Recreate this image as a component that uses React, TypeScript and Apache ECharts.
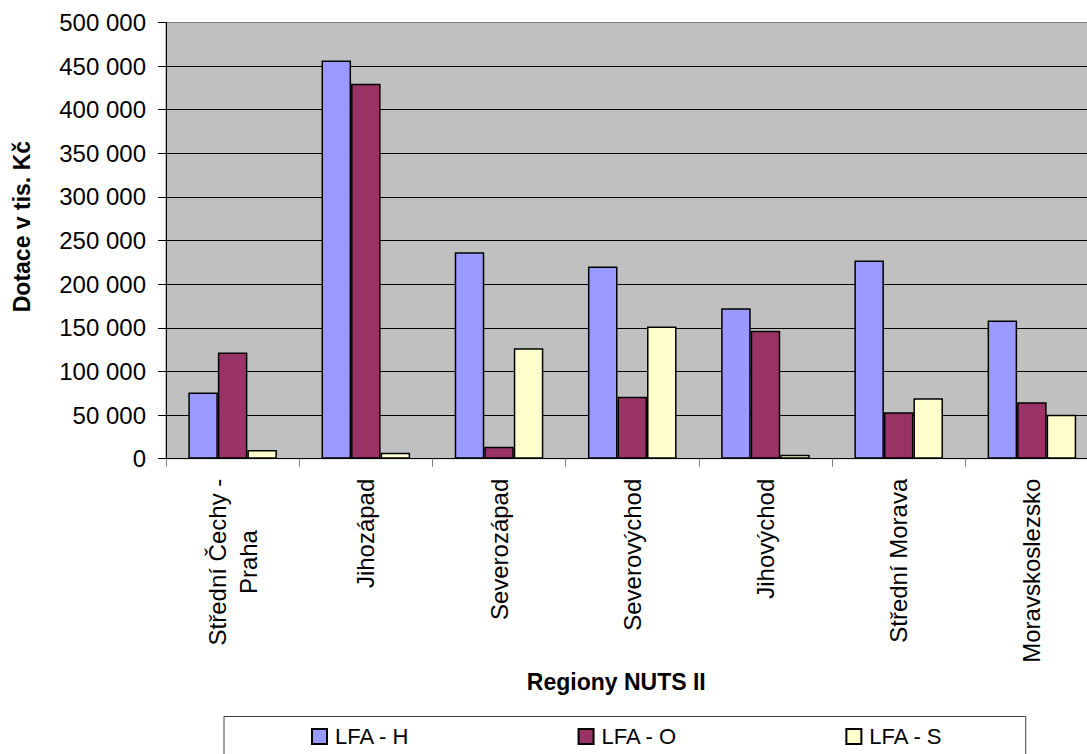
import React, { useEffect, useRef } from "react";
import * as echarts from "echarts";

const categories = [
  "Střední Čechy -\nPraha",
  "Jihozápad",
  "Severozápad",
  "Severovýchod",
  "Jihovýchod",
  "Střední Morava",
  "Moravskoslezsko",
];
const seriesNames = ["LFA - H", "LFA - O", "LFA - S"];
const lfaH = [76000, 456500, 236700, 220200, 172500, 227100, 158300];
const lfaO = [121600, 429700, 13800, 71100, 146800, 53200, 64700];
const lfaS = [10000, 6900, 126600, 151400, 4600, 69200, 50500];
const seriesColors = ["#9999FF", "#993366", "#FFFFCC"];
const yMin = 0;
const yMax = 500000;
const yInterval = 50000;
const yTitle = "Dotace v tis. Kč";
const xTitle = "Regiony NUTS II";

const FONT = "'Liberation Sans', Arial, sans-serif";

function fmt(v: number): string {
  return String(v).replace(/\B(?=(\d{3})+(?!\d))/g, " ");
}

export default function App() {
  const ref = useRef<HTMLDivElement>(null);
  useEffect(() => {
    if (!ref.current) return;
    const chart = echarts.init(ref.current, undefined, { renderer: "svg" });
    const data = [lfaH, lfaO, lfaS];
    const splitColors: string[] = [];
    for (let v = yMin; v <= yMax; v += yInterval) {
      splitColors.push(v === yMax ? "#808080" : "#000000");
    }
    chart.setOption({
      animation: false,
      grid: {
        left: 166,
        top: 22.5,
        width: 932.5,
        height: 436.2,
        show: true,
        backgroundColor: "#C0C0C0",
        borderColor: "#808080",
        borderWidth: 1,
      },
      legend: {
        left: 224,
        top: 716.5,
        orient: "horizontal",
        padding: [9, 83, 40, 87],
        itemGap: 168,
        itemWidth: 15,
        itemHeight: 15,
        borderColor: "#404040",
        borderWidth: 1,
        icon: "rect",
        textStyle: {
          fontFamily: FONT,
          fontSize: 22,
          color: "#000",
          padding: [0, 0, 0, 3],
        },
        data: seriesNames,
      },
      xAxis: {
        type: "category",
        data: categories,
        name: xTitle,
        nameLocation: "middle",
        nameGap: 205,
        nameTextStyle: {
          fontFamily: FONT,
          fontSize: 23,
          fontWeight: "bold",
          color: "#000",
          padding: [0, 32, 0, 0],
        },
        axisLine: { show: true, lineStyle: { color: "#000", width: 1 } },
        axisTick: {
          show: true,
          alignWithLabel: false,
          length: 8,
          lineStyle: { color: "#808080", width: 1 },
        },
        axisLabel: {
          rotate: 90,
          margin: 20,
          interval: 0,
          formatter: (v: string) =>
            v
              .split("\n")
              .map((s) => `{a|${s}}`)
              .join("\n"),
          rich: {
            a: {
              fontFamily: FONT,
              fontSize: 24,
              color: "#000",
              align: "center",
              lineHeight: 31,
            },
          },
        },
        splitLine: { show: false },
      },
      yAxis: {
        type: "value",
        min: yMin,
        max: yMax,
        interval: yInterval,
        name: yTitle,
        nameLocation: "middle",
        nameGap: 133,
        nameTextStyle: {
          fontFamily: FONT,
          fontSize: 23,
          fontWeight: "bold",
          color: "#000",
          padding: [0, 0, 0, 28],
        },
        axisLine: { show: true, lineStyle: { color: "#000", width: 1 } },
        axisTick: { show: true, length: 8, lineStyle: { color: "#000" } },
        axisLabel: {
          margin: 20,
          fontFamily: FONT,
          fontSize: 24,
          color: "#000",
          formatter: (v: number) => fmt(v),
        },
        splitLine: {
          show: true,
          lineStyle: { color: splitColors, width: 1 },
        },
      },
      series: seriesNames.map((name, i) => ({
        name,
        type: "bar",
        data: data[i],
        barGap: "0%",
        barCategoryGap: "33.5%",
        itemStyle: {
          color: seriesColors[i],
          borderColor: "#000",
          borderWidth: 1.5,
        },
      })),
    });
    return () => chart.dispose();
  }, []);
  return (
    <div
      style={{
        position: "absolute",
        left: 0,
        top: 0,
        width: 1087,
        height: 754,
        overflow: "hidden",
        background: "#fff",
      }}
    >
      <div ref={ref} style={{ width: 1110, height: 754 }} />
    </div>
  );
}
